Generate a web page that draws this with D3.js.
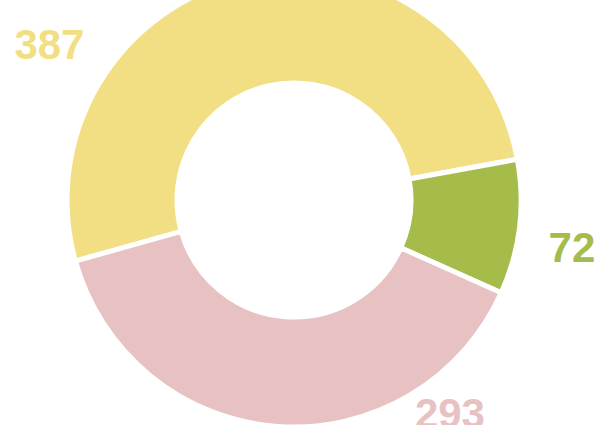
<!DOCTYPE html>
<html>
<head>
<meta charset="utf-8">
<script src="https://cdn.jsdelivr.net/npm/d3@7"></script>
<style>
  body { margin: 0; background: #fff; }
  svg { display: block; }
  .label { font-family: "Liberation Sans", Arial, sans-serif; font-weight: bold; font-size: 42px; }
</style>
</head>
<body>
<div id="chart"></div>
<script>
//data
const values = [387, 72, 293];
const colors = ["#f2df84", "#a5bb4a", "#e8c2c3"];
//where each number label sits: angle in degrees clockwise from 12 o'clock, and distance from centre
const labelAngles = [302.5, 99.7, 143.8];
const labelRadii = [290, 282, 264];

const width = 596, height = 425;
const cx = 294, cy = 200;
const outerR = 227, innerR = 117;
const startDeg = -105.6;

const svg = d3.select("#chart")
	.append("svg")
	.attr("width", width)
	.attr("height", height);

const g = svg.append("g")
	.attr("transform", "translate(" + cx + "," + cy + ")");

const pie = d3.pie()
	.sort(null)
	.startAngle(startDeg * Math.PI / 180)
	.endAngle((startDeg + 360) * Math.PI / 180);

const arc = d3.arc()
	.innerRadius(innerR)
	.outerRadius(outerR);

g.selectAll("path")
	.data(pie(values))
	.enter()
	.append("path")
	.attr("d", arc)
	.attr("fill", function(d, i) { return colors[i]; })
	.attr("stroke", "#fff")
	.attr("stroke-width", 5)
	.attr("stroke-linejoin", "miter");

//labels outside the ring
g.selectAll(".label")
	.data(values)
	.enter()
	.append("text")
	.attr("class", "label")
	.attr("x", function(d, i) { return labelRadii[i] * Math.sin(labelAngles[i] * Math.PI / 180); })
	.attr("y", function(d, i) { return -labelRadii[i] * Math.cos(labelAngles[i] * Math.PI / 180); })
	.attr("text-anchor", "middle")
	.attr("dominant-baseline", "central")
	.attr("fill", function(d, i) { return colors[i]; })
	.text(function(d) { return d; });
</script>
</body>
</html>
